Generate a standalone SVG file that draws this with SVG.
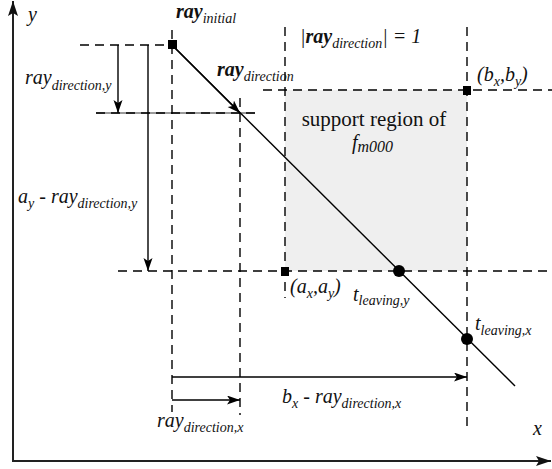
<svg xmlns="http://www.w3.org/2000/svg" width="552" height="469" viewBox="0 0 552 469">
<style>
.dash{stroke:#000;stroke-width:1.4;stroke-dasharray:9,6;fill:none}
.ln{stroke:#000;stroke-width:1.4;fill:none}
.ax{stroke:#222;stroke-width:2;fill:none}
.t{font-family:'Liberation Serif',Tinos,'Noto Serif','DejaVu Serif',Times,'Nimbus Roman','FreeSerif',serif;font-style:italic;font-size:20px;fill:#111}
.b{font-weight:bold}
.s{font-size:14px}
.rg{font-style:normal;font-size:21px}
</style>
<defs>
<marker id="ah" markerUnits="userSpaceOnUse" markerWidth="14" markerHeight="10" refX="13" refY="4.5" orient="auto">
<path d="M0,0 L13,4.5 L0,9 L3,4.5 z" fill="#000"/>
</marker>
<marker id="ahAx" markerUnits="userSpaceOnUse" markerWidth="16" markerHeight="12" refX="15" refY="5" orient="auto">
<path d="M0,0 L15,5 L0,10 L3,5 z" fill="#111"/>
</marker>
</defs>
<rect id="support-region" x="285" y="90" width="182" height="181" fill="#efefef"/>
<g id="axes">
<line class="ax" x1="13" y1="461" x2="13" y2="1" marker-end="url(#ahAx)"/>
<line class="ax" x1="12" y1="461" x2="551" y2="461" marker-end="url(#ahAx)"/>
</g>
<g id="grid">
<line class="dash" x1="80" y1="45" x2="168" y2="45"/>
<line x1="96" y1="113" x2="255" y2="113" stroke="#777" stroke-width="1.4"/>
<line class="dash" x1="96" y1="113" x2="255" y2="113"/>
<line class="dash" x1="263" y1="90" x2="552" y2="90"/>
<line class="dash" x1="118" y1="271" x2="552" y2="271"/>
<line class="dash" x1="172" y1="30" x2="172" y2="412"/>
<line class="dash" x1="240" y1="98" x2="240" y2="415"/>
<line class="dash" x1="285" y1="27" x2="285" y2="298"/>
<line class="dash" x1="467" y1="27" x2="467" y2="432"/>
</g>
<g id="connectors">
<line class="ln" x1="172" y1="45" x2="515" y2="386"/>
<line class="ln" x1="172" y1="45" x2="240" y2="113" marker-end="url(#ah)"/>
<line class="ln" x1="118" y1="45" x2="118" y2="113" marker-end="url(#ah)"/>
<line class="ln" x1="148" y1="45" x2="148" y2="271" marker-end="url(#ah)"/>
<line class="ln" x1="172" y1="377" x2="467" y2="377" marker-end="url(#ah)"/>
<line class="ln" x1="172" y1="400" x2="240" y2="400" marker-end="url(#ah)"/>
</g>
<g id="ray-initial"><rect x="168" y="40" width="9" height="9" fill="#000"/>
<text class="t" x="176" y="18"><tspan class="b">ray</tspan><tspan class="s" y="23">initial</tspan></text></g>
<g id="ray-direction"><text class="t" x="217" y="76"><tspan class="b">ray</tspan><tspan class="s" y="81">direction</tspan></text></g>
<g id="norm-label"><text class="t" x="300" y="43">|<tspan class="b">ray</tspan><tspan class="s" y="48">direction</tspan><tspan y="43">| = 1</tspan></text></g>
<g id="point-b"><rect x="463" y="86" width="8" height="9" fill="#000"/>
<text class="t" x="477" y="81">(b<tspan class="s" y="86">x</tspan><tspan y="81">,b</tspan><tspan class="s" y="86">y</tspan><tspan y="81">)</tspan></text></g>
<g id="point-a"><rect x="281" y="267" width="8" height="9" fill="#000"/>
<text class="t" x="290" y="293">(a<tspan class="s" y="298">x</tspan><tspan y="293">,a</tspan><tspan class="s" y="298">y</tspan><tspan y="293">)</tspan></text></g>
<g id="support-label"><text class="t rg" x="374" y="126" text-anchor="middle">support region of</text>
<text class="t" x="352" y="149">f<tspan style="font-size:16px" y="152">m000</tspan></text></g>
<g id="t-leaving-y"><circle cx="399" cy="271" r="6" fill="#000"/>
<text class="t" x="353" y="301">t<tspan class="s" y="305">leaving,y</tspan></text></g>
<g id="t-leaving-x"><circle cx="467" cy="339" r="6" fill="#000"/>
<text class="t" x="475" y="330">t<tspan class="s" y="335">leaving,x</tspan></text></g>
<g id="labels">
<text class="t" x="28" y="21">y</text>
<text class="t" x="533" y="435">x</text>
<text class="t" x="25" y="84">ray<tspan class="s" y="90">direction,y</tspan></text>
<text class="t" x="18" y="203">a<tspan class="s" y="208">y</tspan><tspan y="203"> - ray</tspan><tspan class="s" y="208">direction,y</tspan></text>
<text class="t" x="282" y="403">b<tspan class="s" y="408">x</tspan><tspan y="403"> - ray</tspan><tspan class="s" y="408">direction,x</tspan></text>
<text class="t" x="157" y="427">ray<tspan class="s" y="432">direction,x</tspan></text>
</g>
</svg>
